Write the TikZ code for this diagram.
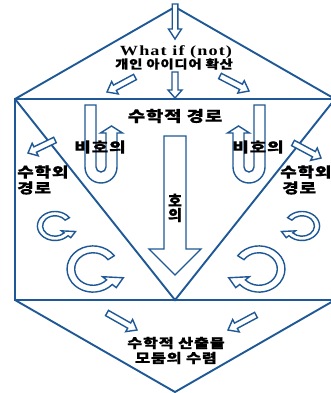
\documentclass[tikz,border=0pt]{standalone}
\usepackage{fontspec}
\newfontfamily\kr{Noto Sans CJK KR}[LetterSpace=5,BoldFeatures={FakeBold=0.8}]
\newfontfamily\latn{Liberation Serif}[LetterSpace=6]
\definecolor{lineblue}{RGB}{30,88,150}
\newcommand\kx[3]{\scalebox{#1}[1]{\fontsize{#2}{#2}\selectfont #3}}
\newcommand\blk[7]{%
  \pgfmathsetmacro\bA{atan2((#4)-(#2),(#3)-(#1))}%
  \pgfmathsetmacro\bL{veclen((#3)-(#1),(#4)-(#2))}%
  \pgfmathsetmacro\bH{\bL-(#7)}%
  \begin{scope}[shift={(#1,#2)},rotate=\bA]
    \draw[arr] (0,-#5) -- (\bH,-#5) -- (\bH,-#6) -- (\bL,0) -- (\bH,#6) -- (\bH,#5) -- (0,#5) -- cycle;
  \end{scope}}
\newcommand\ringarr[4]{%
  \begin{scope}[shift={(#1,#2)},xscale=#3,yscale=#4]
    \draw[arr] (35:22pt) arc[start angle=35,end angle=318,radius=22pt] -- (318:26.5pt) -- (342:27pt) -- (318:11pt) -- (318:15.5pt) arc[start angle=318,end angle=35,radius=15.5pt] -- cycle;
  \end{scope}}
\begin{document}
\begin{tikzpicture}[x=1pt,y=1pt,
  frame/.style={draw=lineblue,line width=1.9pt,line join=miter},
  arr/.style={draw=lineblue,line width=1.4pt,fill=white,line join=miter},
  kt/.style={font=\kr\bfseries,text=black,inner sep=0pt},
  lt/.style={font=\latn\bfseries,text=black,inner sep=0pt}]
\useasboundingbox (0,0) rectangle (331,-393);
\clip (0,0) rectangle (331,-393);
\fill[white] (0,0) rectangle (331,-393);
% frame
\coordinate (TL) at (15,-99);
\coordinate (TR) at (335,-99);
\coordinate (BL) at (15,-300);
\coordinate (BR) at (335,-300);
\coordinate (TA) at (175,-7);
\coordinate (BA) at (175,-392);
\coordinate (MC) at (175,-300);
\draw[frame] (TL) -- (TA) -- (TR);
\draw[frame] (TL) rectangle (BR);
\draw[frame] (TL) -- (MC) -- (TR);
\draw[frame] (BL) -- (BA) -- (BR);
% top arrows
\blk{175}{-4}{175}{-39}{2.8}{6.5}{10}
\blk{135}{-77}{107}{-92}{3}{7}{9}
\blk{175}{-72}{175}{-98}{3}{7}{8}
\blk{220}{-76}{249}{-91}{3}{7}{9}
% big middle arrow
\blk{175}{-136}{175}{-275}{11}{26}{26}
% side arrows
\blk{55}{-140}{28}{-153}{3}{7}{8}
\blk{293}{-143}{321}{-158}{3}{7}{8}
% bottom arrows
\blk{107}{-313}{137}{-330}{3}{7}{9}
\blk{256}{-315}{228}{-330}{3}{7}{9}
% U arrows
\draw[arr] (85,-105) -- (85,-167) arc[start angle=180,end angle=360,radius=16] -- (117,-133) -- (122.5,-133) -- (111.5,-126) -- (100.5,-133) -- (106,-133) -- (106,-167) arc[start angle=0,end angle=-180,radius=5] -- (96,-105) -- cycle;
\draw[arr] (265,-105) -- (265,-167) arc[start angle=0,end angle=-180,radius=16] -- (233,-133) -- (227.5,-133) -- (238.5,-126) -- (249.5,-133) -- (244,-133) -- (244,-167) arc[start angle=180,end angle=360,radius=5] -- (254,-105) -- cycle;
% rings
\ringarr{55}{-226}{0.8}{0.66}
\ringarr{302}{-226}{-0.8}{0.66}
\ringarr{93}{-269}{1.18}{1.05}
\ringarr{259}{-269}{-1.18}{1.05}
% texts
\node[lt] (t1) at (176,-52) {\kx{1.3}{14}{What if (not)}};
\node[kt] (t2) at (174,-64) {\kx{1.2}{12}{개인 아이디어 확산}};
\node[kt] (t3) at (175,-116) {\kx{1.25}{15}{수학적 경로}};
\node[kt] (t4) at (100,-147) {\kx{1.28}{14}{비호의}};
\node[kt] (t5) at (258,-147) {\kx{1.28}{14}{비호의}};
\node[kt] (t6) at (175,-200) {\kx{1}{15}{호}};
\node[kt] (t7) at (175,-215) {\kx{1}{15}{의}};
\node[kt,anchor=west] (t8) at (17,-172) {\kx{1.28}{14}{수학외}};
\node[kt,anchor=west] (t9) at (17,-188) {\kx{1.28}{14}{경로}};
\node[kt,anchor=west] (t10) at (280,-172) {\kx{1.28}{14}{수학외}};
\node[kt,anchor=west] (t11) at (282,-188) {\kx{1.28}{14}{경로}};
\node[kt] (t12) at (176,-343) {\kx{1.25}{13}{수학적 산출물}};
\node[kt] (t13) at (176,-358) {\kx{1.25}{13}{모둠의 수렴}};
\end{tikzpicture}
\end{document}
